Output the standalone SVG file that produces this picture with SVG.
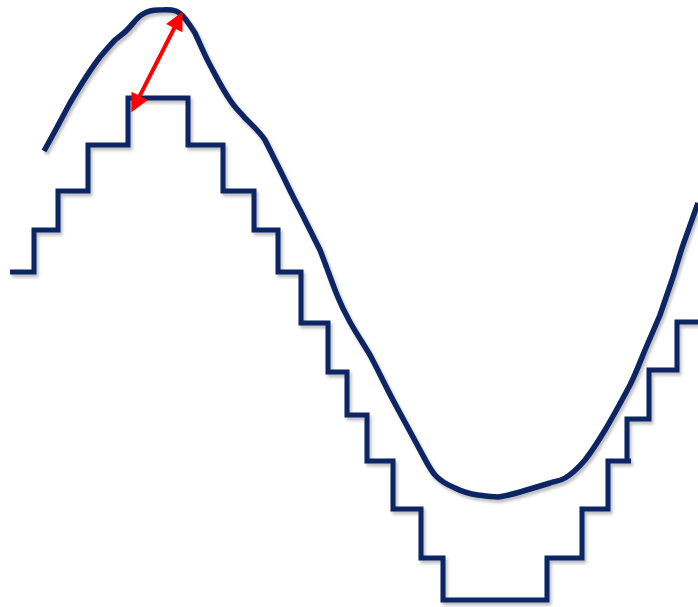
<svg xmlns="http://www.w3.org/2000/svg" width="698" height="607" viewBox="0 0 698 607">
<defs>
<filter id="sh" x="-10%" y="-10%" width="120%" height="120%">
<feDropShadow dx="2" dy="3" stdDeviation="1.5" flood-color="#000" flood-opacity="0.25"/>
</filter>
<marker id="ah" viewBox="0 0 10 10" refX="7.7" refY="5" markerWidth="5.5" markerHeight="4.6" orient="auto-start-reverse" markerUnits="strokeWidth">
<path d="M0,0 L10,5 L0,10 z" fill="#ff0000"/>
</marker>
</defs>
<style>
.w{fill:none;stroke:#0a2563;stroke-width:5;stroke-linejoin:miter;stroke-linecap:butt;filter:url(#sh)}
.c{fill:none;stroke:#0a2563;stroke-width:5.5;stroke-linejoin:round;stroke-linecap:butt;filter:url(#sh)}
.a{fill:none;stroke:#ff0000;stroke-width:4;}
</style>
<rect width="698" height="607" fill="#ffffff"/>
<g id="staircase">
<path class="w" d="M10 272 H34 V230 H58 V191 H88 V145 H128 V98 H188 V145 H223 V191 H254 V230 H278 V272 H301 V323 H328 V372 H347 V415 H367 V461 H393 V509 H421 V558 H443 V600 H547 V558 H582 V509 H608 V461 H631 M627 461 V419 H649 V370 H677 V322 H698"/>
</g>
<g id="sine">
<path class="c" d="M44 151 C52 137 62 118 70 103 C80 86 90 70 100 57 C106 50 111 44 115 40 C120 36 124 33 127 30 C133 24 138 16 143 14 C148 11 152 10 158 10 C164 10 170 9 176 11 C182 13 188 22 195 33 C201 46 205 56 210 65 C217 78 223 90 230 100 C235 108 240 112 245 118 C252 125 259 131 265 140 C270 150 275 160 280 170 C287 184 293 197 300 210 C307 224 313 236 320 250 C326 265 331 280 337 295 C341 305 345 313 350 322 C356 333 363 343 370 355 C378 370 385 385 393 400 C402 417 411 433 420 450 C425 459 429 468 435 475 C441 482 448 485 455 488 C463 492 470 494 478 495 C485 496 491 497 498 497 C506 496 513 494 520 492 C530 489 540 486 550 483 C556 481 560 481 565 478 C572 474 579 467 585 460 C592 451 599 440 605 430 C614 415 622 400 630 385 C636 373 640 362 645 350 C650 338 655 327 660 315 C664 303 668 292 672 280 C676 268 679 257 683 245 C688 231 693 217 698 203"/>
</g>
<g id="connectors">
<line class="a" x1="180.7" y1="15.5" x2="133.3" y2="108.5" marker-start="url(#ah)" marker-end="url(#ah)"/>
</g>
</svg>
